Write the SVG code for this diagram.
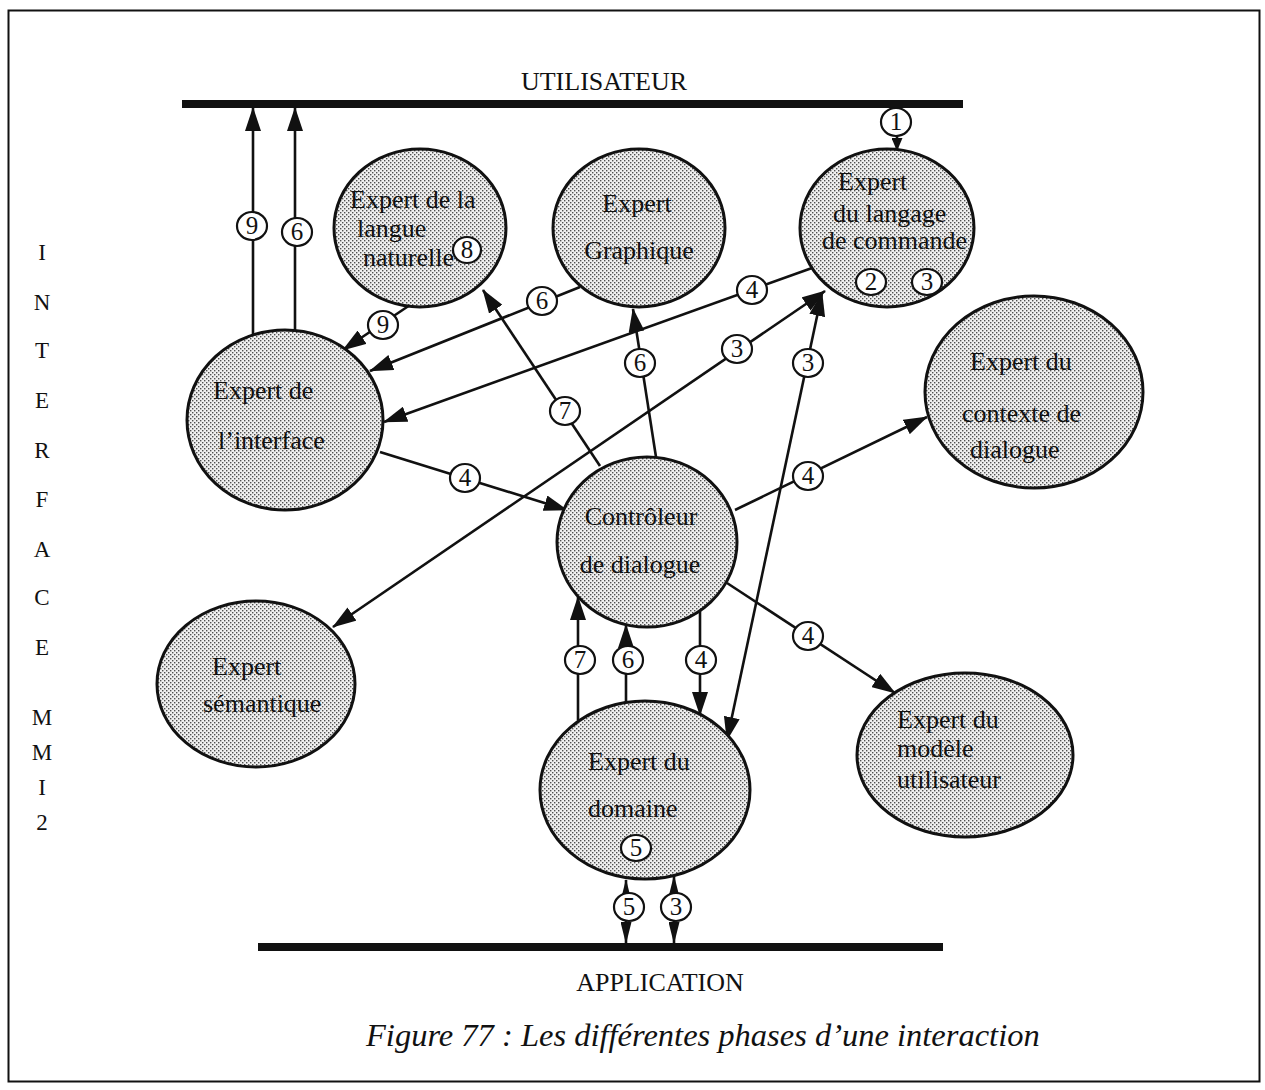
<svg xmlns="http://www.w3.org/2000/svg" width="1265" height="1090" viewBox="0 0 1265 1090">
<style>
  .node { fill: url(#stip); stroke: #111; stroke-width: 3; }
  .t { font-family: "Liberation Serif", "Times New Roman", serif; font-size: 26px; fill: #111; }
  .side { font-family: "Liberation Serif", "Times New Roman", serif; font-size: 23px; fill: #111; text-anchor: middle; }
  .c { fill: none; stroke: #111; stroke-width: 2.6; }
  .lb { fill: #fff; stroke: #111; stroke-width: 2.2; }
  .dg { font-family: "Liberation Serif", "Times New Roman", serif; font-size: 25px; fill: #111; text-anchor: middle; }
  .cap { font-family: "Liberation Serif", "Times New Roman", serif; font-size: 32.5px; font-style: italic; fill: #111; }
</style>
<defs>
  <pattern id="stip" width="4" height="4" patternUnits="userSpaceOnUse">
    <rect width="4" height="4" fill="#f0f0f0"/>
    <rect x="0" y="0" width="1.4" height="1.4" fill="#505050"/>
    <rect x="2" y="2" width="1.4" height="1.4" fill="#505050"/>
  </pattern>
  <marker id="ah" markerUnits="userSpaceOnUse" viewBox="0 0 24 16" markerWidth="24" markerHeight="16" refX="23" refY="8" orient="auto-start-reverse">
    <path d="M0,0 L24,8 L0,16 z" fill="#111"/>
  </marker>
  <marker id="an" markerUnits="userSpaceOnUse" viewBox="0 0 22 11" markerWidth="22" markerHeight="11" refX="21" refY="5.5" orient="auto-start-reverse">
    <path d="M0,0 L22,5.5 L0,11 z" fill="#111"/>
  </marker>
  <marker id="as" markerUnits="userSpaceOnUse" viewBox="0 0 13 11" markerWidth="13" markerHeight="11" refX="12" refY="5.5" orient="auto">
    <path d="M0,0 L13,5.5 L0,11 z" fill="#111"/>
  </marker>
</defs>

<rect x="8.5" y="10.5" width="1251" height="1071" fill="none" stroke="#111" stroke-width="2"/>

<g id="bars">
  <rect x="182" y="100" width="781" height="8" fill="#111"/>
  <text class="t" x="604" y="90" text-anchor="middle">UTILISATEUR</text>
  <rect x="258" y="943" width="685" height="8" fill="#111"/>
  <text class="t" x="660" y="991" text-anchor="middle">APPLICATION</text>
</g>

<g id="side-label">
  <text class="side" x="42" y="260">I</text>
  <text class="side" x="42" y="310">N</text>
  <text class="side" x="42" y="358">T</text>
  <text class="side" x="42" y="408">E</text>
  <text class="side" x="42" y="458">R</text>
  <text class="side" x="42" y="507">F</text>
  <text class="side" x="42" y="557">A</text>
  <text class="side" x="42" y="605">C</text>
  <text class="side" x="42" y="655">E</text>
  <text class="side" x="42" y="725">M</text>
  <text class="side" x="42" y="760">M</text>
  <text class="side" x="42" y="795">I</text>
  <text class="side" x="42" y="830">2</text>
</g>

<g id="connectors">
  <line class="c" x1="253" y1="335" x2="253" y2="108" marker-end="url(#ah)"/>
  <line class="c" x1="295" y1="331" x2="295" y2="108" marker-end="url(#ah)"/>
  <line class="c" x1="897" y1="108" x2="897" y2="150" marker-end="url(#as)"/>
  <line class="c" x1="410" y1="305" x2="343" y2="350" marker-end="url(#ah)"/>
  <line class="c" x1="580" y1="287" x2="370" y2="371" marker-end="url(#ah)"/>
  <line class="c" x1="812" y1="268" x2="384" y2="422" marker-end="url(#ah)"/>
  <line class="c" x1="600" y1="466" x2="483" y2="290" marker-end="url(#ah)"/>
  <line class="c" x1="656" y1="457" x2="633" y2="309" marker-end="url(#ah)"/>
  <line class="c" x1="333" y1="627" x2="825" y2="291" marker-start="url(#ah)" marker-end="url(#ah)"/>
  <line class="c" x1="727" y1="740" x2="822" y2="293" marker-start="url(#ah)" marker-end="url(#ah)"/>
  <line class="c" x1="380" y1="452" x2="567" y2="510" marker-end="url(#ah)"/>
  <line class="c" x1="735" y1="510" x2="927" y2="417" marker-end="url(#ah)"/>
  <line class="c" x1="727" y1="583" x2="895" y2="693" marker-end="url(#ah)"/>
  <line class="c" x1="578" y1="720" x2="578" y2="597" marker-end="url(#ah)"/>
  <line class="c" x1="626" y1="703" x2="626" y2="625" marker-end="url(#ah)"/>
  <line class="c" x1="700" y1="611" x2="700" y2="715" marker-end="url(#ah)"/>
  <line class="c" x1="626" y1="880" x2="626" y2="943" marker-start="url(#an)" marker-end="url(#an)"/>
  <line class="c" x1="674" y1="876" x2="674" y2="943" marker-start="url(#an)" marker-end="url(#an)"/>

  <g id="labels">
    <ellipse class="lb" cx="252" cy="226" rx="15" ry="14"/><text class="dg" x="252" y="234">9</text>
    <ellipse class="lb" cx="297" cy="232" rx="15" ry="14"/><text class="dg" x="297" y="240">6</text>
    <ellipse class="lb" cx="896" cy="122" rx="15" ry="14"/><text class="dg" x="896" y="130">1</text>
    <ellipse class="lb" cx="383" cy="325" rx="15" ry="14"/><text class="dg" x="383" y="333">9</text>
    <ellipse class="lb" cx="542" cy="301" rx="15" ry="14"/><text class="dg" x="542" y="309">6</text>
    <ellipse class="lb" cx="752" cy="290" rx="15" ry="14"/><text class="dg" x="752" y="298">4</text>
    <ellipse class="lb" cx="565" cy="411" rx="15" ry="14"/><text class="dg" x="565" y="419">7</text>
    <ellipse class="lb" cx="640" cy="363" rx="15" ry="14"/><text class="dg" x="640" y="371">6</text>
    <ellipse class="lb" cx="737" cy="349" rx="15" ry="14"/><text class="dg" x="737" y="357">3</text>
    <ellipse class="lb" cx="808" cy="363" rx="15" ry="14"/><text class="dg" x="808" y="371">3</text>
    <ellipse class="lb" cx="465" cy="478" rx="15" ry="14"/><text class="dg" x="465" y="486">4</text>
    <ellipse class="lb" cx="808" cy="476" rx="15" ry="14"/><text class="dg" x="808" y="484">4</text>
    <ellipse class="lb" cx="808" cy="636" rx="15" ry="14"/><text class="dg" x="808" y="644">4</text>
    <ellipse class="lb" cx="580" cy="660" rx="15" ry="14"/><text class="dg" x="580" y="668">7</text>
    <ellipse class="lb" cx="628" cy="660" rx="15" ry="14"/><text class="dg" x="628" y="668">6</text>
    <ellipse class="lb" cx="701" cy="660" rx="15" ry="14"/><text class="dg" x="701" y="668">4</text>
    <ellipse class="lb" cx="629" cy="907" rx="15" ry="14"/><text class="dg" x="629" y="915">5</text>
    <ellipse class="lb" cx="676" cy="907" rx="15" ry="14"/><text class="dg" x="676" y="915">3</text>
  </g>
</g>

<g id="node-langue">
  <ellipse class="node" cx="420" cy="228" rx="86" ry="79"/>
  <text class="t" x="350" y="208">Expert de la</text>
  <text class="t" x="357" y="237">langue</text>
  <text class="t" x="363" y="266">naturelle</text>
  <ellipse class="lb" cx="467" cy="250" rx="14" ry="13"/><text class="dg" x="467" y="258">8</text>
</g>

<g id="node-graphique">
  <ellipse class="node" cx="639" cy="228" rx="86" ry="79"/>
  <text class="t" x="637" y="212" text-anchor="middle">Expert</text>
  <text class="t" x="639" y="259" text-anchor="middle">Graphique</text>
</g>

<g id="node-commande">
  <ellipse class="node" cx="887" cy="228" rx="87" ry="79"/>
  <text class="t" x="838" y="190">Expert</text>
  <text class="t" x="833" y="222">du langage</text>
  <text class="t" x="822" y="249">de commande</text>
  <ellipse class="lb" cx="871" cy="282" rx="15" ry="13"/><text class="dg" x="871" y="290">2</text>
  <ellipse class="lb" cx="927" cy="282" rx="15" ry="13"/><text class="dg" x="927" y="290">3</text>
</g>

<g id="node-interface">
  <ellipse class="node" cx="285" cy="420" rx="98" ry="90"/>
  <text class="t" x="213" y="399">Expert de</text>
  <text class="t" x="218" y="449">l’interface</text>
</g>

<g id="node-contexte">
  <ellipse class="node" cx="1034" cy="392" rx="109" ry="96"/>
  <text class="t" x="970" y="370">Expert du</text>
  <text class="t" x="962" y="422">contexte de</text>
  <text class="t" x="970" y="458">dialogue</text>
</g>

<g id="node-controleur">
  <ellipse class="node" cx="647" cy="542" rx="90" ry="85"/>
  <text class="t" x="641" y="525" text-anchor="middle">Contrôleur</text>
  <text class="t" x="640" y="573" text-anchor="middle">de dialogue</text>
</g>

<g id="node-semantique">
  <ellipse class="node" cx="256" cy="684" rx="99" ry="83"/>
  <text class="t" x="212" y="675">Expert</text>
  <text class="t" x="203" y="712">sémantique</text>
</g>

<g id="node-domaine">
  <ellipse class="node" cx="645" cy="790" rx="105" ry="89"/>
  <text class="t" x="588" y="770">Expert du</text>
  <text class="t" x="588" y="817">domaine</text>
  <ellipse class="lb" cx="636" cy="848" rx="15" ry="13"/><text class="dg" x="636" y="856">5</text>
</g>

<g id="node-modele">
  <ellipse class="node" cx="965" cy="755" rx="108" ry="82"/>
  <text class="t" x="897" y="728">Expert du</text>
  <text class="t" x="897" y="757">modèle</text>
  <text class="t" x="897" y="788">utilisateur</text>
</g>

<text class="cap" x="366" y="1046">Figure 77 : Les différentes phases d’une interaction</text>
</svg>
